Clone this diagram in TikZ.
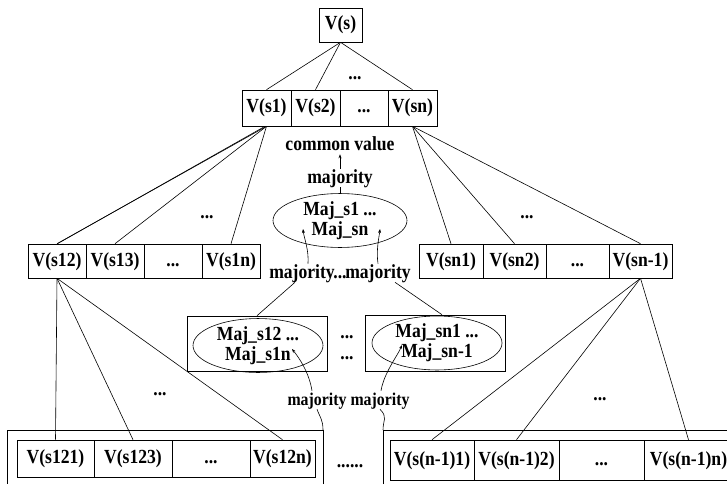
\documentclass[tikz,border=0pt]{standalone}
\usepackage{fontspec}
\setmainfont{Liberation Serif}[FakeStretch=0.88]
\usetikzlibrary{arrows.meta,shapes.geometric}
\begin{document}
\begin{tikzpicture}[x=1pt,y=-1pt,
  font=\fontsize{20}{20}\selectfont\bfseries,
  line width=0.6pt,
  cell/.style={draw, inner sep=0pt, anchor=center, text height=14pt, text depth=4pt},
  lbl/.style={inner sep=0pt, anchor=center, text height=14pt, text depth=4pt},
  ell/.style={draw, ellipse, inner sep=0pt, align=center},
  arr/.style={-{Stealth[length=4pt,width=3pt]}}]
\useasboundingbox (0,0) rectangle (727,484);

% root
\node[cell, minimum width=43pt, minimum height=34pt] (vs) at (340.5,25) {V(s)};
% row 1
\tikzset{r1/.style={cell, minimum height=36pt}}
\node[r1, minimum width=49pt] (v1) at (266.5,108) {V(s1)};
\node[r1, minimum width=49pt] (v2) at (315.5,108) {V(s2)};
\node[r1, minimum width=48pt] (vd) at (364,108) {...};
\node[r1, minimum width=49pt] (vn) at (412.5,108) {V(sn)};
\node[lbl] (d0) at (355,75) {...};

% row 2 left
\tikzset{r2/.style={cell, minimum height=34pt, minimum width=58pt}}
\node[r2] (v12) at (57,261) {V(s12)};
\node[r2] (v13) at (115,261) {V(s13)};
\node[r2] (v1d) at (173,261) {...};
\node[r2] (v1n) at (231,261) {V(s1n)};
% row 2 right
\node[r2, minimum width=64pt] (vn1) at (451,261) {V(sn1)};
\node[r2, minimum width=63pt] (vn2) at (514.5,261) {V(sn2)};
\node[r2, minimum width=63pt] (vnd) at (577.5,261) {...};
\node[r2, minimum width=63pt] (vnm) at (640.5,261) {V(sn-1)};
\node[lbl] (d1) at (207,213) {...};
\node[lbl] (d2) at (527,213) {...};

% centre: common value
\node[lbl] (cv) at (340,145) {common value};
\node[lbl] (maj) at (340,178) {majority};
\node[ell, minimum width=134pt, minimum height=35pt] (e0) at (340,220.5) {Maj\_s1 ...\\Maj\_sn};
\node[lbl] (mjL) at (302,273) {majority};
\node[lbl] (mjD) at (340,273) {...};
\node[lbl] (mjR) at (378,273) {majority};

\draw (e0.north) -- (maj.south);
\draw[arr] (maj.north) -- (cv.south);
\coordinate (aL) at (303,229);
\coordinate (aR) at (380,229);
\draw[arr] ([xshift=6pt]mjL.north) .. controls +(1,-14) and +(1,9) .. (aL);
\draw[arr] ([xshift=0pt]mjR.north) .. controls +(-2,-14) and +(-1,9) .. (aR);

% middle boxes
\node[cell, minimum width=140pt, minimum height=55pt] (bL) at (257,343.5) {};
\node[ell, minimum width=130pt, minimum height=45pt] (eL) at (258,345.5) {Maj\_s12 ...\\Maj\_s1n};
\node[cell, minimum width=140pt, minimum height=56pt] (bR) at (435,343) {};
\node[ell, minimum width=130pt, minimum height=42pt] (eR) at (437,343) {Maj\_sn1 ...\\Maj\_sn-1};
\node[lbl] (dm1) at (347,333) {...};
\node[lbl] (dm2) at (347,354) {...};

\draw ([xshift=-7pt]mjL.south) -- (bL.north);
\draw ([xshift=17pt]mjR.south) -- ([xshift=7pt]bR.north);

% majority majority
\node[lbl, font=\fontsize{18}{20}\selectfont\bfseries] (mbL) at (317,400) {majority};
\node[lbl, font=\fontsize{18}{20}\selectfont\bfseries] (mbR) at (380,400) {majority};
\coordinate (tL) at (292,349);
\coordinate (tR) at (402,345);
\draw[arr] ([xshift=-5pt]mbL.north) .. controls +(-3,-18) and +(8,10) .. (tL);
\draw[arr] ([xshift=1pt]mbR.north) .. controls +(3,-18) and +(-4,10) .. (tR);

% bottom outer boxes
\coordinate (oL) at (323,430);
\coordinate (oR) at (383,430);
\draw (323,484) -- (oL) -- (7,430) -- (7,484);
\draw (383,484) -- (oR) -- (727,430);
\draw (mbL.south) .. controls +(3,8) and +(0,-10) .. (oL);
\draw (mbR.south) .. controls +(8,8) and +(0,-10) .. (oR);

% row 3 left
\tikzset{r3/.style={cell, minimum height=37pt}}
\node[r3, minimum width=77pt] (v121) at (55.5,458.5) {V(s121)};
\node[r3, minimum width=78pt] (v123) at (133,458.5) {V(s123)};
\node[r3, minimum width=78pt] (v12d) at (211,458.5) {...};
\node[r3, minimum width=65pt] (v12n) at (282.5,458.5) {V(s12n)};
% row 3 right
\node[r3, minimum width=84pt, minimum height=40pt] (b1) at (432,460) {V(s(n-1)1)};
\node[r3, minimum width=85pt, minimum height=40pt] (b2) at (516.5,460) {V(s(n-1)2)};
\node[r3, minimum width=85pt, minimum height=40pt] (bd) at (601.5,460) {...};
\node[r3, minimum width=89pt, minimum height=40pt] (bn) at (688.5,460) {V(s(n-1)n)};
\node[lbl] (d3) at (160,390) {...};
\node[lbl] (d4) at (600,395) {...};
\node[lbl] (d5) at (350,462) {......};

% connectors
\draw (vs.south) -- (v1.north);
\draw (vs.south) -- (v2.north);
\draw (vs.south) -- (vn.north);
\draw (v1.south) -- (v12.north);
\draw ([xshift=-1.5pt]v1.south) -- ([xshift=0.5pt]v12.north);
\draw (v1.south) -- (v13.north);
\draw (v1.south) -- (v1n.north);
\draw (vn.south) -- (vn1.north);
\draw (vn.south) -- (vn2.north);
\draw (vn.south) -- (vnm.north);
\draw (v12.south) -- (v121.north);
\draw (v12.south) -- (v123.north);
\draw (v12.south) -- (v12n.north);
\draw (vnm.south) -- (b1.north);
\draw (vnm.south) -- (b2.north);
\draw (vnm.south) -- (bn.north);
\end{tikzpicture}
\end{document}
